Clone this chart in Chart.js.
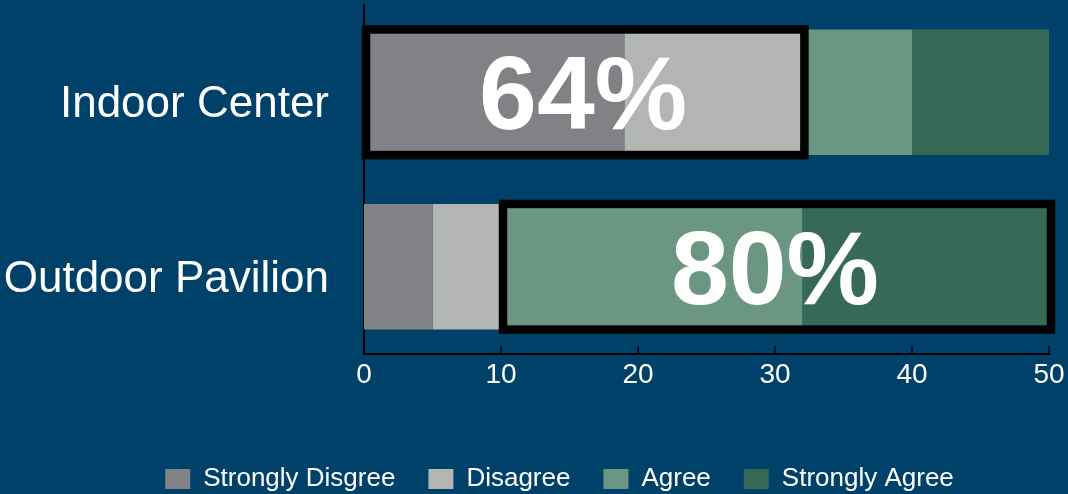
<!DOCTYPE html>
<html>
<head>
<meta charset="utf-8">
<script src="https://cdn.jsdelivr.net/npm/chart.js@4/dist/chart.umd.min.js"></script>
<style>
  html, body { margin: 0; padding: 0; background: #00416A; }
  #wrap { width: 1068px; height: 494px; }
</style>
</head>
<body>
<div id="wrap"><canvas id="myChart"></canvas></div>
<script>
// categorias y series
const lugares = ['Indoor Center', 'Outdoor Pavilion'];
const muyDesacuerdo = [19, 5];
const desacuerdo = [13, 5];
const acuerdo = [8, 22];
const muyAcuerdo = [10, 18];
const xTicks = [0, 10, 20, 30, 40, 50];

// que grupo se resalta en cada barra: 'neg' = desacuerdo, 'pos' = acuerdo
const resaltado = ['neg', 'pos'];

const colores = ['#808285', '#B3B5B3', '#6A9682', '#366A56'];

// recuadro negro + porcentaje grande sobre la parte resaltada
const recuadros = {
    id: 'recuadros',
    afterDatasetsDraw(chart) {
        const ctx = chart.ctx;
        const x = chart.scales.x;
        const meta = chart.getDatasetMeta(0);
        lugares.forEach((l, i) => {
            const neg = muyDesacuerdo[i] + desacuerdo[i];
            const total = neg + acuerdo[i] + muyAcuerdo[i];
            const desde = resaltado[i] === 'neg' ? 0 : neg;
            const hasta = resaltado[i] === 'neg' ? neg : total;
            const pct = Math.round(100 * (hasta - desde) / total);
            const bar = meta.data[i];
            const top = bar.y - bar.height / 2;
            const x0 = x.getPixelForValue(desde);
            const x1 = x.getPixelForValue(hasta);
            ctx.save();
            ctx.strokeStyle = '#000';
            ctx.lineWidth = 8.5;
            ctx.strokeRect(x0 + 2, top, x1 - x0, bar.height);
            ctx.fillStyle = '#fff';
            ctx.font = 'bold 104px "Liberation Sans", Arial, sans-serif';
            ctx.textAlign = 'center';
            ctx.textBaseline = 'alphabetic';
            ctx.fillText(pct + '%', (x0 + x1) / 2, bar.y + 0.358 * 104);
            ctx.restore();
        });
    }
};

// marcas del eje x hacia dentro + leyenda desplazada como en el original
const marcasDentro = {
    id: 'marcasDentro',
    afterLayout(chart) {
        const lg = chart.legend;
        lg.left += 35; lg.right += 35;
        lg.top += 8; lg.bottom += 8;
    },
    afterDraw(chart) {
        const ctx = chart.ctx;
        const x = chart.scales.x;
        const y0 = chart.chartArea.bottom;
        ctx.save();
        ctx.strokeStyle = '#000';
        ctx.lineWidth = 1.5;
        x.ticks.forEach((t, i) => {
            const px = x.getPixelForTick(i);
            ctx.beginPath();
            ctx.moveTo(px, y0 - 8);
            ctx.lineTo(px, y0);
            ctx.stroke();
        });
        ctx.restore();
    }
};

const ctx = document.getElementById('myChart').getContext('2d');
const chart = new Chart(ctx, {
    type: 'bar',
    data: {
        labels: lugares,
        datasets: [
            { label: 'Strongly Disgree', data: muyDesacuerdo, backgroundColor: colores[0] },
            { label: 'Disagree', data: desacuerdo, backgroundColor: colores[1] },
            { label: 'Agree', data: acuerdo, backgroundColor: colores[2] },
            { label: 'Strongly Agree', data: muyAcuerdo, backgroundColor: colores[3] }
        ]
    },
    options: {
        indexAxis: 'y',
        responsive: true,
        maintainAspectRatio: false,
        animation: false,
        categoryPercentage: 1,
        barPercentage: 0.72,
        layout: { padding: { left: 0, top: 5, right: 19, bottom: 0 } },
        plugins: {
            tooltip: { enabled: false },
            legend: {
                position: 'bottom',
                labels: {
                    color: '#fff',
                    boxWidth: 25,
                    boxHeight: 20,
                    padding: 33,
                    font: { family: '"Liberation Sans", Arial, sans-serif', size: 26 }
                }
            }
        },
        scales: {
            x: {
                stacked: true,
                min: 0,
                max: 50,
                afterBuildTicks: s => { s.ticks = xTicks.map(v => ({ value: v })); },
                grid: { display: false },
                border: { display: true, color: '#000', width: 2 },
                ticks: {
                    color: '#fff',
                    padding: -4,
                    maxRotation: 0,
                    font: { family: '"Liberation Sans", Arial, sans-serif', size: 28 }
                },
                afterFit: s => { s.height = 71; s.paddingLeft = 0; s.paddingRight = 0; }
            },
            y: {
                stacked: true,
                grid: { display: false },
                border: { display: true, color: '#000', width: 2 },
                ticks: {
                    color: '#fff',
                    padding: 27,
                    labelOffset: 13,
                    font: { family: '"Liberation Sans", Arial, sans-serif', size: 44 }
                },
                afterFit: s => { s.width = 364; s.paddingTop = 0; s.paddingBottom = 0; }
            }
        }
    },
    plugins: [recuadros, marcasDentro]
});
</script>
</body>
</html>
